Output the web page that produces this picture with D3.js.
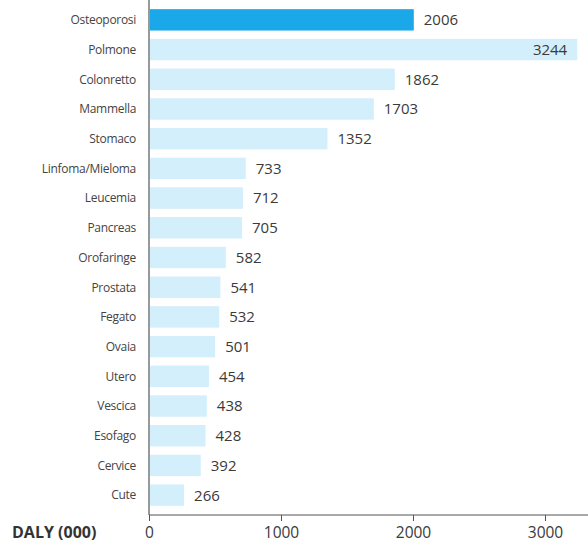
<!DOCTYPE html>
<html><head><meta charset="utf-8">
<script src="https://cdn.jsdelivr.net/npm/d3@7"></script>
<style>body{margin:0;background:#fff}</style>
</head><body>
<script>
const categories = ["Osteoporosi","Polmone","Colonretto","Mammella","Stomaco","Linfoma/Mieloma","Leucemia","Pancreas","Orofaringe","Prostata","Fegato","Ovaia","Utero","Vescica","Esofago","Cervice","Cute"];
const values = [2006,3244,1862,1703,1352,733,712,705,582,541,532,501,454,438,428,392,266];
const tickValues = [0,1000,2000,3000];
const axisTitle = "DALY (000)";

const W = 588, H = 543;
const svg = d3.select("body").append("svg").attr("width", W).attr("height", H);

const x = d3.scaleLinear().domain([0, 3000]).range([149, 545]);
const y = d3.scaleBand().domain(categories).range([5, 510]).paddingInner(0.28).paddingOuter(0.14);
const axisY = 515;

// bars
svg.selectAll("rect.bar").data(values).join("rect")
  .attr("x", x(0) + 1)
  .attr("y", (d, i) => y(categories[i]))
  .attr("width", d => x(d) - x(0) - 1)
  .attr("height", y.bandwidth())
  .attr("fill", (d, i) => i === 0 ? "#1ba8e8" : "#d2effb");

// value labels
const maxV = d3.max(values);
svg.selectAll("text.val").data(values).join("text")
  .attr("x", d => d === maxV ? x(d) - 10 : x(d) + 10)
  .attr("y", (d, i) => y(categories[i]) + y.bandwidth() / 2)
  .attr("dy", "0.36em")
  .attr("text-anchor", d => d === maxV ? "end" : "start")
  .attr("font-family", "'Open Sans', sans-serif")
  .attr("font-size", 15)
  .attr("fill", "#3a3a3a")
  .text(d => d);

// category labels
svg.selectAll("text.cat").data(categories).join("text")
  .attr("x", 136)
  .attr("y", d => y(d) + y.bandwidth() / 2)
  .attr("dy", "0.36em")
  .attr("text-anchor", "end")
  .attr("font-family", "'Open Sans', sans-serif")
  .attr("font-size", 12)
  .attr("letter-spacing", "-0.3px")
  .attr("fill", "#444")
  .text(d => d);

// vertical axis line
svg.append("line").attr("x1", x(0)).attr("x2", x(0)).attr("y1", 0).attr("y2", axisY)
  .attr("stroke", "#555").attr("stroke-width", 1.2);

// x axis
const xAxis = d3.axisBottom(x).tickValues(tickValues).tickSize(6).tickPadding(6).tickFormat(d3.format("d"));
const gx = svg.append("g").attr("transform", `translate(0,${axisY})`).call(xAxis);
gx.select(".domain").attr("d", `M${x(0)},0H${W}`).attr("stroke", "#555").attr("stroke-width", 1.2);
gx.selectAll(".tick line").attr("stroke", "#555");
gx.selectAll(".tick text").attr("font-family", "'Open Sans', sans-serif").attr("font-size", 15.5).attr("fill", "#3a3a3a");

svg.append("text").attr("x", 12).attr("y", 538)
  .attr("font-family", "'Open Sans', sans-serif").attr("font-weight", "bold")
  .attr("font-size", 16).attr("fill", "#333").text(axisTitle);
</script>
</body></html>
